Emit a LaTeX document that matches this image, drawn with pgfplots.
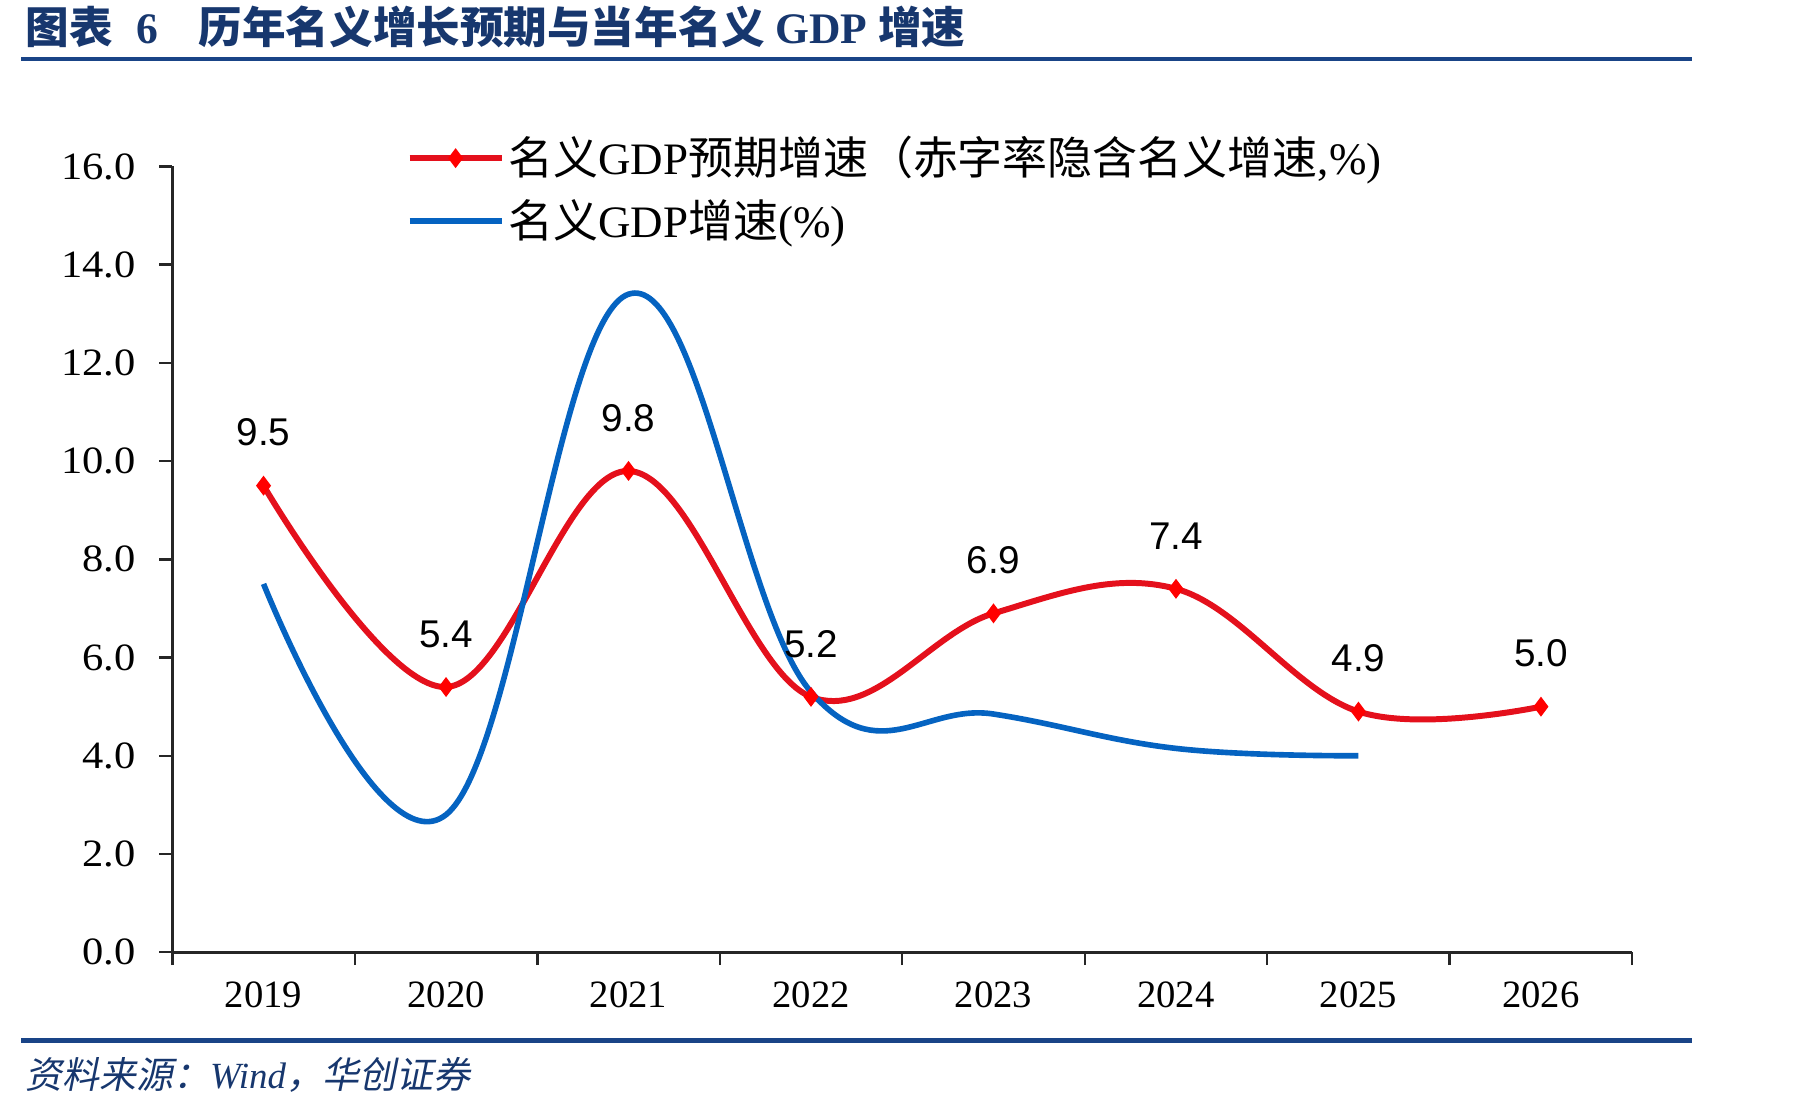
\documentclass[border=0pt]{standalone}
\usepackage{fontspec}
\setmainfont{Liberation Serif}
\newfontfamily\cjk{Noto Sans CJK SC}
\newfontfamily\cjkit{Noto Sans CJK SC}[FakeSlant=0.2]
\newfontfamily\labelsans{Liberation Sans}
\newfontfamily\tickserif{Liberation Serif}[FakeStretch=1.1]
\usepackage{pgfplots}
\pgfplotsset{compat=1.18}
\definecolor{titleblue}{RGB}{23,55,110}
\definecolor{rulecol}{RGB}{25,68,135}
\definecolor{redline}{RGB}{228,16,28}
\definecolor{redmark}{RGB}{255,0,0}
\definecolor{blueline}{RGB}{5,99,193}
\begin{document}
\begin{tikzpicture}
\useasboundingbox (0,0) rectangle (18.01,11.08);
% title
\node[anchor=west, text=titleblue, font=\fontsize{12.4}{14}\selectfont, inner sep=0pt] at (0.25,10.815) {\cjk\bfseries 图表\hspace{0.55em}\rmfamily\bfseries 6};
\node[anchor=west, text=titleblue, font=\fontsize{12.4}{14}\selectfont, inner sep=0pt] at (1.98,10.815) {\cjk\bfseries 历年名义增长预期与当年名义 \rmfamily\bfseries GDP \cjk\bfseries 增速};
\draw[rulecol, line width=1.1pt] (0.21,10.494) -- (16.92,10.494);
\draw[rulecol, line width=1.4pt] (0.21,0.674) -- (16.92,0.674);
\node[anchor=west, text=titleblue, font=\fontsize{10.5}{12}\selectfont, inner sep=0pt] at (0.25,0.33) {\cjkit 资料来源：{\rmfamily\itshape Wind}\cjkit ，华创证券};
\begin{axis}[
  at={(1.723cm,1.558cm)}, anchor=south west,
  scale only axis, width=14.599cm, height=7.857cm,
  xmin=-0.5, xmax=7.5, ymin=0, ymax=16,
  axis x line*=bottom, axis y line*=left,
  axis line style={-, black!85, line width=0.8pt},
  tick align=outside, major tick length=1.3mm,
  tick style={black!85, line width=0.7pt},
  xtick={-0.5,0.5,...,7.5},
  x tick label as interval,
  xticklabels={2019,2020,2021,2022,2023,2024,2025,2026},
  ytick={0,2,...,16},
  /pgf/number format/assume math mode=true,
  ticklabel style={font=\fontsize{11}{13}\selectfont, text=black},
  yticklabel style={font=\tickserif\fontsize{11}{13}\selectfont, xshift=-1.1mm, /pgf/number format/.cd, fixed, fixed zerofill, precision=1},
  xticklabel style={yshift=-0.4mm},
  legend style={draw=none, fill=none, at={(0.1605,0.9707)}, anchor=west,
    inner sep=0pt, outer sep=0pt, row sep=1.95mm,
    nodes={inner sep=0pt},
    font=\fontsize{12.8}{14}\selectfont,
    /tikz/every odd column/.append style={column sep=0.35mm}},
  legend cell align=left,
  legend image code/.code={\draw[mark repeat=2,mark phase=2,#1] plot coordinates {(0cm,0cm) (0.46cm,0cm) (0.92cm,0cm)};},
  clip=false,
]
\addplot[redline, line width=1.7pt, smooth, tension=0.62, mark=diamond*, mark size=2.6pt,
  mark options={fill=redmark, draw=redmark, line width=0.3pt},
  nodes near coords={\pgfmathprintnumber[fixed,fixed zerofill,precision=1]{\pgfplotspointmeta}},
  every node near coord/.append style={font=\labelsans\fontsize{11}{13}\selectfont, text=black, anchor=center, yshift=5.3mm}]
  coordinates {(0,9.5) (1,5.4) (2,9.8) (3,5.2) (4,6.9) (5,7.4) (6,4.9) (7,5.0)};
\addlegendentry{\cjk 名义\rmfamily GDP\cjk 预期增速（赤字率隐含名义增速\rmfamily ,\%)}
\addplot[blueline, line width=1.6pt, smooth, tension=0.68, no marks]
  coordinates {(0,7.5) (1,2.8) (2,13.4) (3,5.3) (4,4.85) (5,4.15) (6,4.0)};
\addlegendentry{\cjk 名义\rmfamily GDP\cjk 增速\rmfamily (\%)}
\end{axis}
\end{tikzpicture}
\end{document}
